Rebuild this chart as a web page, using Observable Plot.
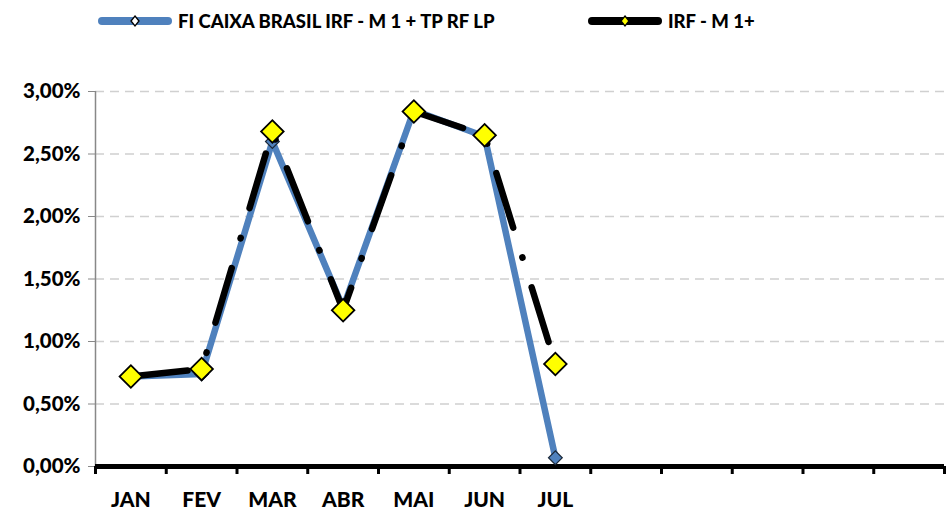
<!DOCTYPE html>
<html><head><meta charset="utf-8">
<script src="https://cdn.jsdelivr.net/npm/d3@7"></script>
<script src="https://cdn.jsdelivr.net/npm/@observablehq/plot@0.6"></script>
<style>
body{margin:0;background:#fff;font-family:Lato,"Open Sans",sans-serif;}
#wrap{position:relative;width:946px;height:513px;}
#legend{position:absolute;top:0;left:0;width:946px;height:40px;font-weight:900;font-size:18.5px;color:#000;}
.item{position:absolute;top:10px;display:flex;align-items:center;white-space:nowrap;}
.item svg{margin-right:6px;}
</style></head>
<body><div id="wrap"><div id="chart"></div><div id="legend"></div></div>
<script>
const months = ["JAN","FEV","MAR","ABR","MAI","JUN","JUL","AGO","SET","OUT","NOV","DEZ"];
const labelMonths = ["JAN","FEV","MAR","ABR","MAI","JUN","JUL"];
const fundName = "FI CAIXA BRASIL IRF - M 1 + TP RF LP";
const benchName = "IRF - M 1+";
const fundValues = [0.0072, 0.0074, 0.0260, 0.0127, 0.0285, 0.0264, 0.0007];
const benchValues = [0.0072, 0.0078, 0.0268, 0.0125, 0.0284, 0.0265, 0.0082];
const yTicks = [0, 0.005, 0.01, 0.015, 0.02, 0.025, 0.03];

const fund = fundValues.map((v,i)=>({x:i+0.5, y:v}));
const bench = benchValues.map((v,i)=>({x:i+0.5, y:v}));
const fmt = d => (d*100).toFixed(2).replace(".",",")+"%";

const plot = Plot.plot({
  width: 946, height: 513,
  marginTop: 91, marginBottom: 47, marginLeft: 95, marginRight: 2,
  style: {fontFamily: "Lato, sans-serif", background: "#fff"},
  x: {domain: [0, 12], label: null},
  y: {domain: [0, 0.03], label: null},
  marks: [
    Plot.ruleY(yTicks.slice(1), {stroke: "#d0d0d0", strokeWidth: 1.5, strokeDasharray: "9,6"}),
    Plot.ruleX([0], {y1: 0, y2: 0.03, stroke: "#888", strokeWidth: 1.5}),
    Plot.axisY({ticks: yTicks, tickFormat: fmt, tickSize: 7, stroke: "#888", tickPadding: 8, label: null,
      fontSize: 20.5, fontWeight: 900, fill: "#000"}),
    Plot.ruleY([0], {stroke: "#000", strokeWidth: 5}),
    Plot.axisX({ticks: d3.range(13), tickFormat: () => "", tickSize: 8, strokeWidth: 3, stroke: "#000", label: null}),
    Plot.axisX({ticks: labelMonths.map((m,i)=>i+0.5), tickFormat: d => months[Math.floor(d)], tickSize: 0, label: null,
      tickPadding: 26, fontSize: 21, fontWeight: 900, fill: "#000"}),
    Plot.line(fund, {x: "x", y: "y", stroke: "#4F81BD", strokeWidth: 6.5, strokeLinejoin: "round"}),
    Plot.dot(fund, {x: "x", y: "y", symbol: "square", rotate: 45, r: 5.5, fill: "#4F81BD", stroke: "#1b2838", strokeWidth: 1.2}),
    Plot.line(bench, {x: "x", y: "y", stroke: "#000", strokeWidth: 6.5, strokeLinecap: "round",
      strokeDasharray: "57,31,0.5,31"}),
    Plot.dot(bench, {x: "x", y: "y", symbol: "square", rotate: 45, r: 9, fill: "#FFFF00", stroke: "#000", strokeWidth: 1.8})
  ]
});
document.getElementById("chart").appendChild(plot);

const legend = document.getElementById("legend");
function item(left, name, lineColor, markFill, markStroke){
  const d = document.createElement("div");
  d.className = "item"; d.style.left = left + "px";
  d.innerHTML = `<svg width="74" height="16"><line x1="4" y1="8" x2="70" y2="8" stroke="${lineColor}" stroke-width="8" stroke-linecap="round"/>
    <path d="M37,3 L41,8 L37,13 L33,8 Z" fill="${markFill}" stroke="${markStroke}" stroke-width="1.3"/></svg><span>${name}</span>`;
  legend.appendChild(d);
}
item(98, fundName, "#4F81BD", "#fff", "#000");
item(588, benchName, "#000", "#FFFF00", "#000");
</script></body></html>
